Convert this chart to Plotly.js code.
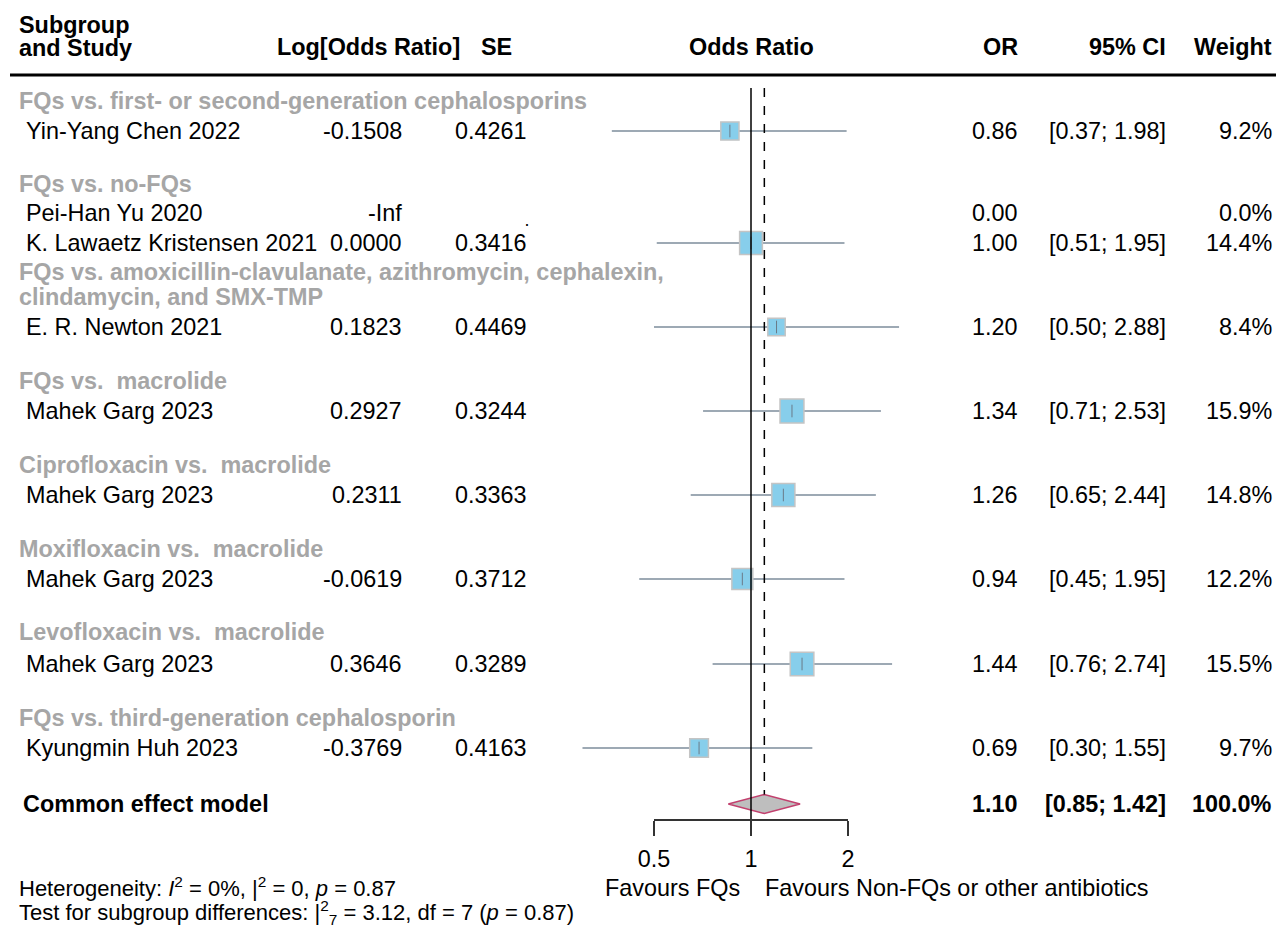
<!DOCTYPE html>
<html>
<head>
<meta charset="utf-8">
<script src="https://cdn.plot.ly/plotly-3.0.1.min.js"></script>
<style>html,body{margin:0;padding:0;background:#fff;}#chart{width:1276px;height:928px;}</style>
</head>
<body>
<div id="chart"></div>
<script>
// ---------------- DATA ----------------
const subgroups = [
  "FQs vs. first- or second-generation cephalosporins",
  "FQs vs. no-FQs",
  "FQs vs. amoxicillin-clavulanate, azithromycin, cephalexin,\nclindamycin, and SMX-TMP",
  "FQs vs.  macrolide",
  "Ciprofloxacin vs.  macrolide",
  "Moxifloxacin vs.  macrolide",
  "Levofloxacin vs.  macrolide",
  "FQs vs. third-generation cephalosporin"
];
const studies = ["Yin-Yang Chen 2022","Pei-Han Yu 2020","K. Lawaetz Kristensen 2021","E. R. Newton 2021",
  "Mahek Garg 2023","Mahek Garg 2023","Mahek Garg 2023","Mahek Garg 2023","Kyungmin Huh 2023"];
const studyGroup = [0,1,1,2,3,4,5,6,7];
const logOR = ["-0.1508","-Inf","0.0000","0.1823","0.2927","0.2311","-0.0619","0.3646","-0.3769"];
const seText = ["0.4261","","0.3416","0.4469","0.3244","0.3363","0.3712","0.3289","0.4163"];
const orVal = [0.86,0.00,1.00,1.20,1.34,1.26,0.94,1.44,0.69];
const ciLow = [0.37,null,0.51,0.50,0.71,0.65,0.45,0.76,0.30];
const ciHigh = [1.98,null,1.95,2.88,2.53,2.44,1.95,2.74,1.55];
const weight = [9.2,0.0,14.4,8.4,15.9,14.8,12.2,15.5,9.7];
const pooledLabel = "Common effect model";
const pooledOR = 1.10, pooledLow = 0.85, pooledHigh = 1.42, pooledWeight = 100.0;
const tickVals = [0.5,1,2];
const tickLabels = ["0.5","1","2"];
const heterogeneity = "Heterogeneity: <i>I</i><sup>2</sup> = 0%, |<sup>2</sup> = 0, <i>p</i> = 0.87";
const subgroupTest = "Test for subgroup differences: |<sup>2</sup><sub>7</sub> = 3.12, df = 7 (<i>p</i> = 0.87)";
const favLeft = "Favours FQs", favRight = "Favours Non-FQs or other antibiotics";

// ---------------- LAYOUT (pixel positions) ----------------
const W = 1276, H = 928;
const FONT = "Liberation Sans, Arial, Helvetica, sans-serif";
const FS = 23.4;
const subgroupRowY = [[101],[184],[272,297],[381],[465],[549],[632],[718]];
const studyRowY = [131,213,243,327,411,495,579,664,748];
const pooledY = 804, axisY = 819, headY1 = 25, headY2 = 47, ruleY = 75, refTop = 88;
const oneX = 751, ppd = 322.3;          // pixel of OR=1, pixels per decade
const col = {sub:18, study:25, logor:403, se:528, or:1019, ci:1167, w:1273};
const px = v => v / W;

const xr = [-(oneX)/ppd, (W-oneX)/ppd];

const ann = [];
function txt(text, x, y, anchor, opts) {
  opts = opts || {};
  ann.push({text: text, x: px(x), xref:'paper', y: y, yref:'y', xanchor: anchor, yanchor:'middle',
    showarrow:false, borderpad:0,
    font:{family:FONT, size: opts.size || FS, color: opts.color || '#000', weight: opts.bold ? 'bold' : 'normal'}});
}
// headers
txt("Subgroup", col.sub, headY1, 'left', {bold:true});
txt("and Study", col.sub, headY2 + 1, 'left', {bold:true});
txt("Log[Odds Ratio]", 461, headY2, 'right', {bold:true});
txt("SE", 513, headY2, 'right', {bold:true});
txt("Odds Ratio", oneX, headY2, 'center', {bold:true});
txt("OR", col.or, headY2, 'right', {bold:true});
txt("95% CI", col.ci, headY2, 'right', {bold:true});
txt("Weight", col.w, headY2, 'right', {bold:true});
// subgroups
subgroups.forEach((s, i) => {
  s.split("\n").forEach((line, j) => txt(line, col.sub, subgroupRowY[i][j], 'left', {bold:true, color:'#a6a6a6'}));
});
// studies
studies.forEach((s, i) => {
  const y = studyRowY[i];
  txt(s, col.study, y, 'left');
  txt(logOR[i], col.logor, y, 'right');
  if (seText[i]) txt(seText[i], col.se, y, 'right');
  txt(orVal[i].toFixed(2), col.or, y, 'right');
  if (ciLow[i] !== null) txt("[" + ciLow[i].toFixed(2) + "; " + ciHigh[i].toFixed(2) + "]", col.ci, y, 'right');
  txt(weight[i].toFixed(1) + "%", col.w, y, 'right');
});
txt("·", 527, 224, 'center', {size:18});
// pooled
txt(pooledLabel, 22, pooledY, 'left', {bold:true});
txt(pooledOR.toFixed(2), col.or, pooledY, 'right', {bold:true});
txt("[" + pooledLow.toFixed(2) + "; " + pooledHigh.toFixed(2) + "]", col.ci, pooledY, 'right', {bold:true});
txt(pooledWeight.toFixed(1) + "%", col.w, pooledY, 'right', {bold:true});
// favours & footer
txt(favLeft, 741, 888, 'right');
txt(favRight, 764, 888, 'left');
txt(heterogeneity, 18, 887, 'left', {size:22});
txt(subgroupTest, 18, 912, 'left', {size:22});

// ---------------- TRACES ----------------
const ciX = [], ciY = [];
studies.forEach((s, i) => { if (ciLow[i] !== null) { ciX.push(ciLow[i], ciHigh[i], null); ciY.push(studyRowY[i], studyRowY[i], null); } });
const sqIdx = studies.map((s,i)=>i).filter(i => weight[i] > 0);
const k = 6.0;
const traces = [
  {type:'scatter', mode:'lines', x:ciX, y:ciY, line:{color:'#7d8c9b', width:1.5}, hoverinfo:'skip', showlegend:false},
  {type:'scatter', mode:'markers', x:sqIdx.map(i=>orVal[i]), y:sqIdx.map(i=>studyRowY[i]),
    marker:{symbol:'square', size:sqIdx.map(i=>k*Math.sqrt(weight[i])), color:'#87ceeb', opacity:1, line:{color:'#c4c4c4', width:1.5}},
    hoverinfo:'skip', showlegend:false},
  {type:'scatter', mode:'markers', x:sqIdx.map(i=>orVal[i]), y:sqIdx.map(i=>studyRowY[i]),
    marker:{symbol:'line-ns', size:9, line:{color:'#6a7a88', width:1}}, hoverinfo:'skip', showlegend:false},
  {type:'scatter', mode:'lines', x:[pooledLow, pooledOR, pooledHigh, pooledOR, pooledLow],
    y:[pooledY, pooledY-9.5, pooledY, pooledY+9.5, pooledY], fill:'toself', fillcolor:'#bebebe',
    line:{color:'#c2406e', width:1.5}, hoverinfo:'skip', showlegend:false},
  {type:'scatter', mode:'markers', x:[1], y:[-100], xaxis:'x2', yaxis:'y', marker:{opacity:0}, hoverinfo:'skip', showlegend:false}
];

const shapes = [
  {type:'line', xref:'paper', yref:'y', x0:px(10), x1:1, y0:ruleY, y1:ruleY, line:{color:'#000', width:3}},
  {type:'line', xref:'x', yref:'y', x0:1, x1:1, y0:refTop, y1:axisY, line:{color:'#000', width:1.5}},
  {type:'line', xref:'x', yref:'y', x0:pooledOR, x1:pooledOR, y0:refTop, y1:pooledY-9.5, line:{color:'#000', width:1.5, dash:'dash'}}
];

const layout = {
  width:W, height:H, margin:{l:0,r:0,t:0,b:0,pad:0}, paper_bgcolor:'#fff', plot_bgcolor:'rgba(0,0,0,0)',
  font:{family:FONT, size:FS, color:'#000'},
  xaxis:{type:'log', range:xr, domain:[0,1], visible:false, fixedrange:true},
  xaxis2:{type:'log', anchor:'free', position:1 - axisY/H, domain:[px(oneX - ppd*Math.log10(2)), px(oneX + ppd*Math.log10(2))],
    range:[Math.log10(0.5), Math.log10(2)], tickvals:tickVals, ticktext:tickLabels, ticks:'outside', ticklen:15,
    tickwidth:1.5, tickcolor:'#333', showline:true, linecolor:'#333', linewidth:1.5, showgrid:false, zeroline:false,
    ticklabelstandoff:3,
    tickfont:{family:FONT, size:FS, color:'#000'}, side:'bottom', fixedrange:true},
  yaxis:{range:[H,0], domain:[0,1], visible:false, fixedrange:true},
  shapes:shapes, annotations:ann, showlegend:false
};
Plotly.newPlot('chart', traces, layout, {staticPlot:true, displayModeBar:false});
</script>
</body>
</html>
